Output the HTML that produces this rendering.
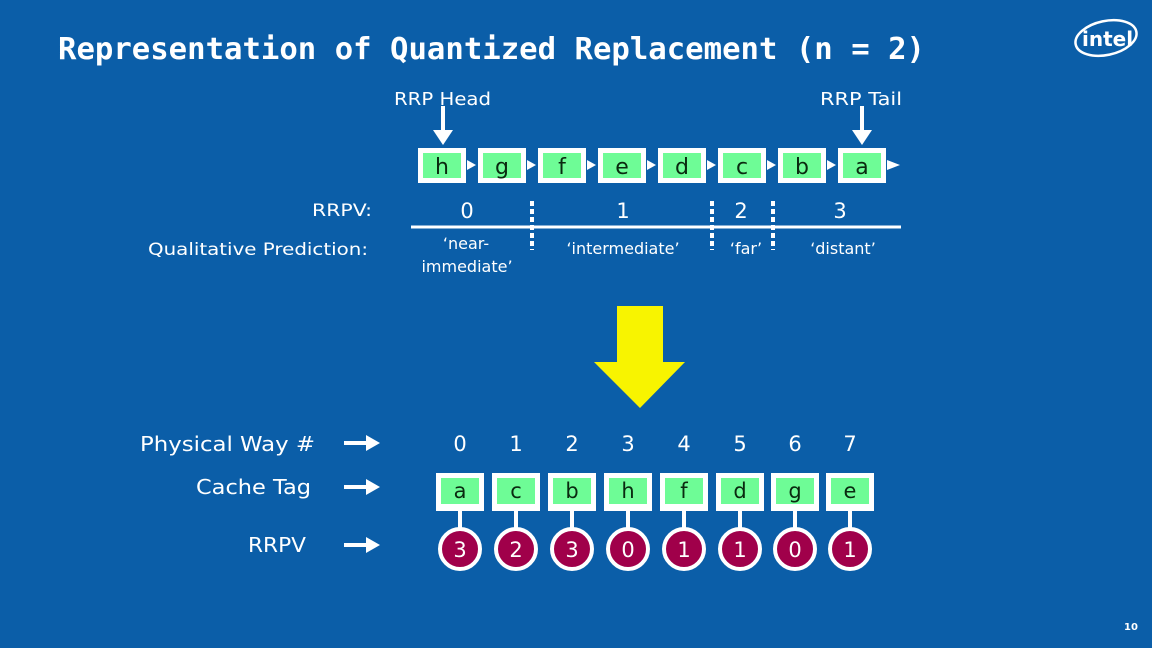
<!DOCTYPE html>
<html><head><meta charset="utf-8"><style>
html,body{margin:0;padding:0;background:#0b5ea8;}
svg{display:block}
text{font-family:"DejaVu Sans","Liberation Sans",sans-serif;fill:#fff}
</style></head><body>
<svg width="1152" height="648" viewBox="0 0 1152 648" xmlns="http://www.w3.org/2000/svg">
<rect width="1152" height="648" fill="#0b5ea8"/>
<text x="58" y="59" font-size="30" font-weight="bold" style="font-family:'DejaVu Sans Mono','Liberation Mono',monospace" textLength="867" lengthAdjust="spacingAndGlyphs">Representation of Quantized Replacement (n = 2)</text>
<ellipse cx="1106" cy="38" rx="31" ry="17" fill="none" stroke="#fff" stroke-width="2.5" transform="rotate(-12 1106 38)"/>
<text x="1082" y="46" font-size="20" font-weight="bold">intel</text>
<text x="394" y="105" font-size="18" textLength="97" lengthAdjust="spacingAndGlyphs">RRP Head</text>
<text x="820" y="105" font-size="18" textLength="82" lengthAdjust="spacingAndGlyphs">RRP Tail</text>
<g stroke="#fff" stroke-width="4" fill="#fff">
<line x1="443" y1="106" x2="443" y2="132"/><polygon points="433,130 453,130 443,145" stroke="none"/>
<line x1="862" y1="106" x2="862" y2="132"/><polygon points="852,130 872,130 862,145" stroke="none"/>
</g>
<g fill="#fff">
<polygon points="467,160 476,165 467,170"/><polygon points="527,160 536,165 527,170"/><polygon points="587,160 596,165 587,170"/><polygon points="647,160 656,165 647,170"/><polygon points="707,160 716,165 707,170"/><polygon points="767,160 776,165 767,170"/><polygon points="827,160 836,165 827,170"/><polygon points="887,160 900,165 887,170"/>
</g>
<g font-size="22" text-anchor="middle">
<g transform="translate(418,148)"><rect width="48" height="35" fill="#fff"/><rect x="5" y="5" width="38" height="25" fill="#6efc96"/><text x="24" y="26" style="fill:#0a2a10">h</text></g>
<g transform="translate(478,148)"><rect width="48" height="35" fill="#fff"/><rect x="5" y="5" width="38" height="25" fill="#6efc96"/><text x="24" y="26" style="fill:#0a2a10">g</text></g>
<g transform="translate(538,148)"><rect width="48" height="35" fill="#fff"/><rect x="5" y="5" width="38" height="25" fill="#6efc96"/><text x="24" y="26" style="fill:#0a2a10">f</text></g>
<g transform="translate(598,148)"><rect width="48" height="35" fill="#fff"/><rect x="5" y="5" width="38" height="25" fill="#6efc96"/><text x="24" y="26" style="fill:#0a2a10">e</text></g>
<g transform="translate(658,148)"><rect width="48" height="35" fill="#fff"/><rect x="5" y="5" width="38" height="25" fill="#6efc96"/><text x="24" y="26" style="fill:#0a2a10">d</text></g>
<g transform="translate(718,148)"><rect width="48" height="35" fill="#fff"/><rect x="5" y="5" width="38" height="25" fill="#6efc96"/><text x="24" y="26" style="fill:#0a2a10">c</text></g>
<g transform="translate(778,148)"><rect width="48" height="35" fill="#fff"/><rect x="5" y="5" width="38" height="25" fill="#6efc96"/><text x="24" y="26" style="fill:#0a2a10">b</text></g>
<g transform="translate(838,148)"><rect width="48" height="35" fill="#fff"/><rect x="5" y="5" width="38" height="25" fill="#6efc96"/><text x="24" y="26" style="fill:#0a2a10">a</text></g>
</g>
<text x="312" y="216" font-size="17" textLength="60" lengthAdjust="spacingAndGlyphs">RRPV:</text>
<text x="148" y="255" font-size="17" textLength="220" lengthAdjust="spacingAndGlyphs">Qualitative Prediction:</text>
<g font-size="21" text-anchor="middle">
<text x="467" y="218">0</text><text x="623" y="218">1</text><text x="741" y="218">2</text><text x="840" y="218">3</text>
</g>
<line x1="411" y1="227" x2="901" y2="227" stroke="#fff" stroke-width="3"/>
<g stroke="#fff" stroke-width="4" stroke-dasharray="5,3">
<line x1="532" y1="201" x2="532" y2="250"/><line x1="712" y1="201" x2="712" y2="250"/><line x1="773" y1="201" x2="773" y2="250"/>
</g>
<g font-size="16" text-anchor="middle">
<text x="466" y="249">‘near-</text><text x="467" y="272">immediate’</text>
<text x="623" y="254">‘intermediate’</text>
<text x="746" y="254">‘far’</text>
<text x="843" y="254">‘distant’</text>
</g>
<polygon points="617,306 663,306 663,362 685,362 640,408 594,362 617,362" fill="#f8f400"/>
<text x="140" y="451" font-size="20" textLength="175" lengthAdjust="spacingAndGlyphs">Physical Way #</text>
<text x="196" y="494" font-size="20" textLength="115" lengthAdjust="spacingAndGlyphs">Cache Tag</text>
<text x="248" y="552" font-size="20" textLength="58" lengthAdjust="spacingAndGlyphs">RRPV</text>
<g fill="#fff" stroke="#fff" stroke-width="4">
<line x1="344" y1="443" x2="368" y2="443"/><polygon points="366,435 380,443 366,451" stroke="none"/>
<line x1="344" y1="487" x2="368" y2="487"/><polygon points="366,479 380,487 366,495" stroke="none"/>
<line x1="344" y1="545" x2="368" y2="545"/><polygon points="366,537 380,545 366,553" stroke="none"/>
</g>
<g font-size="21" text-anchor="middle">
<text x="460" y="451">0</text><text x="516" y="451">1</text><text x="572" y="451">2</text><text x="628" y="451">3</text><text x="684" y="451">4</text><text x="740" y="451">5</text><text x="795" y="451">6</text><text x="850" y="451">7</text>
</g>
<g font-size="21" text-anchor="middle">
<g transform="translate(460,0)"><line x1="0" y1="510" x2="0" y2="530" stroke="#fff" stroke-width="4"/><rect x="-24" y="473" width="48" height="38" fill="#fff"/><rect x="-19" y="478" width="38" height="26" fill="#6efc96"/><text y="498" style="fill:#0a2a10">a</text><circle cy="549" r="20" fill="#a0004a" stroke="#fff" stroke-width="4"/><text y="557">3</text></g>
<g transform="translate(516,0)"><line x1="0" y1="510" x2="0" y2="530" stroke="#fff" stroke-width="4"/><rect x="-24" y="473" width="48" height="38" fill="#fff"/><rect x="-19" y="478" width="38" height="26" fill="#6efc96"/><text y="498" style="fill:#0a2a10">c</text><circle cy="549" r="20" fill="#a0004a" stroke="#fff" stroke-width="4"/><text y="557">2</text></g>
<g transform="translate(572,0)"><line x1="0" y1="510" x2="0" y2="530" stroke="#fff" stroke-width="4"/><rect x="-24" y="473" width="48" height="38" fill="#fff"/><rect x="-19" y="478" width="38" height="26" fill="#6efc96"/><text y="498" style="fill:#0a2a10">b</text><circle cy="549" r="20" fill="#a0004a" stroke="#fff" stroke-width="4"/><text y="557">3</text></g>
<g transform="translate(628,0)"><line x1="0" y1="510" x2="0" y2="530" stroke="#fff" stroke-width="4"/><rect x="-24" y="473" width="48" height="38" fill="#fff"/><rect x="-19" y="478" width="38" height="26" fill="#6efc96"/><text y="498" style="fill:#0a2a10">h</text><circle cy="549" r="20" fill="#a0004a" stroke="#fff" stroke-width="4"/><text y="557">0</text></g>
<g transform="translate(684,0)"><line x1="0" y1="510" x2="0" y2="530" stroke="#fff" stroke-width="4"/><rect x="-24" y="473" width="48" height="38" fill="#fff"/><rect x="-19" y="478" width="38" height="26" fill="#6efc96"/><text y="498" style="fill:#0a2a10">f</text><circle cy="549" r="20" fill="#a0004a" stroke="#fff" stroke-width="4"/><text y="557">1</text></g>
<g transform="translate(740,0)"><line x1="0" y1="510" x2="0" y2="530" stroke="#fff" stroke-width="4"/><rect x="-24" y="473" width="48" height="38" fill="#fff"/><rect x="-19" y="478" width="38" height="26" fill="#6efc96"/><text y="498" style="fill:#0a2a10">d</text><circle cy="549" r="20" fill="#a0004a" stroke="#fff" stroke-width="4"/><text y="557">1</text></g>
<g transform="translate(795,0)"><line x1="0" y1="510" x2="0" y2="530" stroke="#fff" stroke-width="4"/><rect x="-24" y="473" width="48" height="38" fill="#fff"/><rect x="-19" y="478" width="38" height="26" fill="#6efc96"/><text y="498" style="fill:#0a2a10">g</text><circle cy="549" r="20" fill="#a0004a" stroke="#fff" stroke-width="4"/><text y="557">0</text></g>
<g transform="translate(850,0)"><line x1="0" y1="510" x2="0" y2="530" stroke="#fff" stroke-width="4"/><rect x="-24" y="473" width="48" height="38" fill="#fff"/><rect x="-19" y="478" width="38" height="26" fill="#6efc96"/><text y="498" style="fill:#0a2a10">e</text><circle cy="549" r="20" fill="#a0004a" stroke="#fff" stroke-width="4"/><text y="557">1</text></g>
</g>
<text x="1124" y="630" font-size="10" font-weight="bold">10</text>
</svg>
</body></html>
